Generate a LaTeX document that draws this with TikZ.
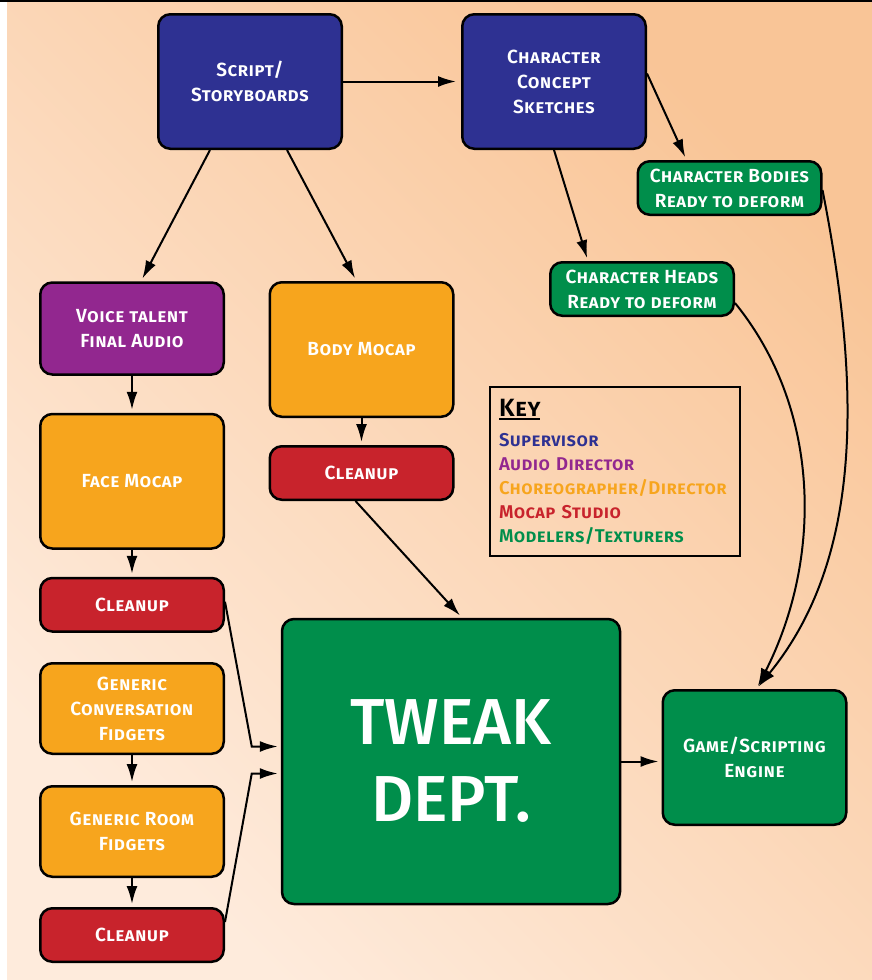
\documentclass[tikz,border=0pt]{standalone}
\usepackage{fontspec}
\setmainfont{Fira Sans}
\newfontfamily\boxfont{Fira Sans SemiBold}[LetterSpace=2]
\newfontfamily\bigfont{Fira Sans Medium}
\usetikzlibrary{positioning,arrows.meta}

\definecolor{superblue}{HTML}{2E3192}
\definecolor{audiopurple}{HTML}{92278F}
\definecolor{choreoorange}{HTML}{F7A51D}
\definecolor{mocapred}{HTML}{C8232C}
\definecolor{modelgreen}{HTML}{008E4B}
\definecolor{bglight}{HTML}{FEEBDC}
\definecolor{bgdark}{HTML}{F9C597}

% heading with a heavy rule underneath
\newcommand\keyhead[1]{\setbox0\hbox{#1}\rlap{\rule[-4pt]{\wd0}{2.2pt}}\box0}

\begin{document}
\begin{tikzpicture}[
    x=1pt, y=-1pt,
    box/.style={rectangle, rounded corners=12pt, draw=black, line width=2.5pt,
        minimum width=183.5pt, align=center, text=white,
        font=\boxfont\scshape\fontsize{19}{25}\selectfont},
    tall/.style={box, minimum height=134.5pt},
    mid/.style={box, minimum height=90.5pt},
    flat/.style={box, minimum height=53.5pt},
    arrow/.style={line width=2pt, -{Latex[length=18pt,width=11pt]}, shorten >=3pt}
]
    % page and backdrop
    \useasboundingbox (0,0) rectangle (872,980);
    \fill[white] (0,0) rectangle (872,980);
    \shade[bottom color=bglight, top color=bgdark, shading angle=-45] (7,2) rectangle (872,980);
    \draw[line width=2pt] (0,1) -- (872,1);

    % top row
    \node[tall, fill=superblue] (script) at (250,81.5) {Script/\\Storyboards};
    \node[tall, fill=superblue] (concept) at (554,81.5) {Character\\Concept\\Sketches};
    \node[flat, fill=modelgreen] (bodies) at (729.5,188) {Character Bodies\\Ready to deform};
    \node[flat, fill=modelgreen] (heads) at (642,289) {Character Heads\\Ready to deform};

    % face column
    \node[mid, fill=audiopurple, minimum height=92pt] (voice) at (132,328.5) {Voice talent\\Final Audio};
    \node[tall, fill=choreoorange, below=37pt of voice] (face) {Face Mocap};
    \node[flat, fill=mocapred, below=27pt of face] (clean1) {Cleanup};

    % body column
    \node[tall, fill=choreoorange] (body) at (361.5,349.5) {Body Mocap};
    \node[flat, fill=mocapred, below=27pt of body] (clean2) {Cleanup};

    % fidgets
    \node[mid, fill=choreoorange] (conv) at (132,708.5) {Generic\\Conversation\\Fidgets};
    \node[mid, fill=choreoorange, below=30pt of conv] (room) {Generic Room\\Fidgets};
    \node[flat, fill=mocapred, below=29pt of room] (clean3) {Cleanup};

    \node[box, fill=modelgreen, minimum width=338pt, minimum height=285pt,
        font=\bigfont\fontsize{65}{77}\selectfont] (tweak) at (451,761.5) {TWEAK\\DEPT.};
    \node[tall, fill=modelgreen] (game) at (754.5,757.5) {Game/Scripting\\Engine};

    % legend
    \node[draw=black, line width=2pt, minimum width=250pt, minimum height=169pt,
        text width=232pt, align=left, font=\boxfont\scshape\fontsize{18.5}{24}\selectfont]
        (key) at (615,471.5) {%
        {\fontsize{25}{30}\selectfont\keyhead{Key}}\\[6pt]
        \textcolor{superblue}{Supervisor}\\
        \textcolor{audiopurple}{Audio Director}\\
        \textcolor{choreoorange}{Choreographer/Director}\\
        \textcolor{mocapred}{Mocap Studio}\\
        \textcolor{modelgreen}{Modelers/Texturers}};

    % connectors
    \draw[arrow, shorten >=5pt] (script) -- (concept);
    \draw[arrow] ([xshift=-40pt]script.south) -- ([xshift=9pt]voice.north);
    \draw[arrow] ([xshift=37pt]script.south) -- ([xshift=-5pt]body.north);
    \draw[arrow] (concept.south) -- ([xshift=-54pt]heads.north);
    \draw[arrow] ([yshift=8pt]concept.east) -- ([xshift=-43pt]bodies.north);

    \draw[arrow] (voice) -- (face);
    \draw[arrow] (face) -- (clean1);
    \draw[arrow] (body) -- (clean2);
    \draw[arrow] (conv) -- (room);
    \draw[arrow] (room) -- (clean3);

    \coordinate (join1) at ([xshift=-29pt,yshift=15pt]tweak.west);
    \coordinate (join2) at ([xshift=-29pt,yshift=-12pt]tweak.west);
    \draw[arrow] ([xshift=-6pt]clean2.south) -- ([xshift=11pt]tweak.north);
    \draw[arrow] ([yshift=3pt]clean1.east) -- (join1) -- (join1 -| tweak.west);
    \draw[arrow] ([yshift=13pt]clean3.east) -- (join2) -- (join2 -| tweak.west);
    \draw[arrow] (tweak.east) -- (tweak.east -| game.west);

    \draw[arrow] ([yshift=-14pt]heads.east) .. controls (822,410) and (822,560) .. ([xshift=2pt]game.north);
    \draw[arrow] ([yshift=-2pt]bodies.east) .. controls (862,390) and (862,560) .. ([xshift=2pt]game.north);
\end{tikzpicture}
\end{document}
